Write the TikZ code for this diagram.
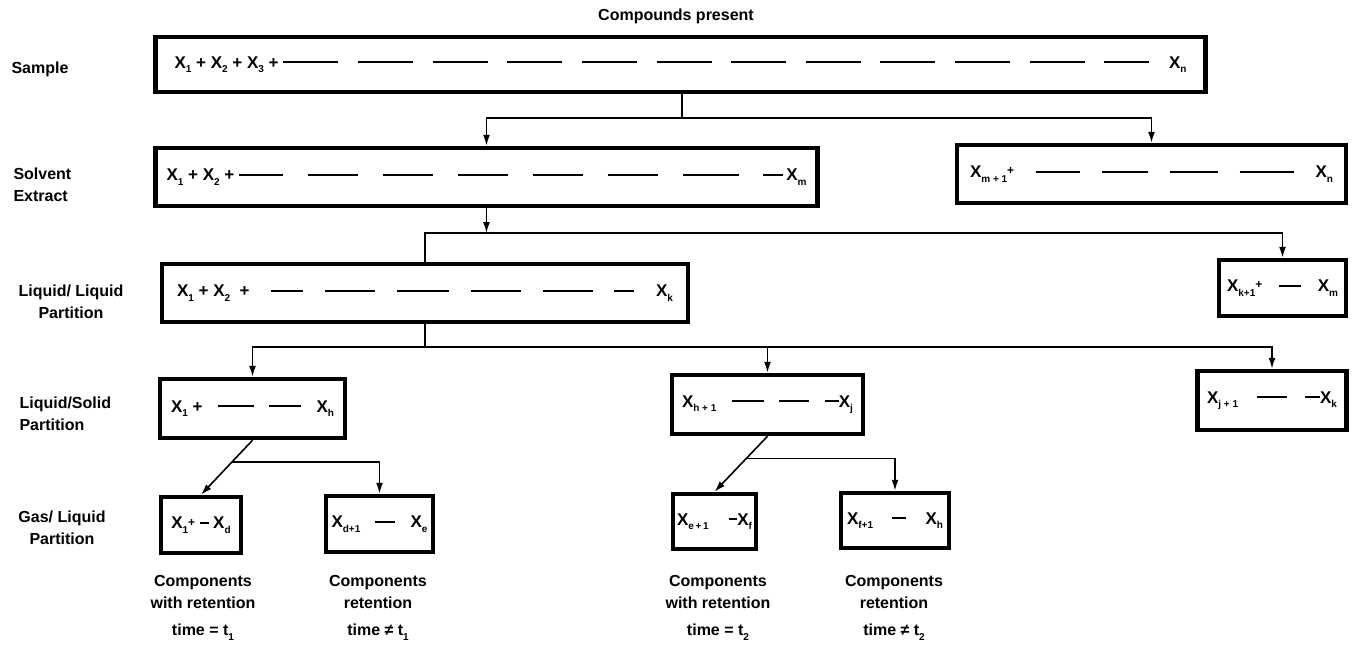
\documentclass[tikz,border=0pt]{standalone}
\usepackage{fontspec}
\setmainfont{Liberation Sans}
\usetikzlibrary{arrows.meta}
\usetikzlibrary{calc}

\newcommand{\lo}[1]{\raisebox{-4.5pt}{\fontsize{10}{10}\selectfont #1}}
\newcommand{\cx}[1]{X\lo{#1}}
\newcommand{\dsh}[1][55pt]{\rule[5pt]{#1}{2pt}}
\newcommand{\spread}[2]{\hbox to #1{#2}}

\begin{document}
\begin{tikzpicture}[x=1pt, y=-1pt, font=\fontsize{16}{22}\selectfont\bfseries,
    cbox/.style={draw, line width=4.5pt, inner sep=0pt, font=\fontsize{17}{20}\selectfont\bfseries},
    link/.style={line width=1.6pt},
    arr/.style={link, -{Latex[length=11pt,width=7pt]}}]
            \useasboundingbox (0,0) rectangle (1353,648);
            \node (title) at (676,16) {Compounds present};
            % stage labels
            \node [anchor=west] (lsample) at (8,69) {Sample};
            \node [anchor=west, align=left] (lsolvent) at (10,185) {Solvent\\Extract};
            \node [align=center] (lliquid) at (71,302) {Liquid/ Liquid\\Partition};
            \node [anchor=west, align=left] (lsolid) at (16,414) {Liquid/Solid\\Partition};
            \node [align=center] (lgas) at (62,528) {Gas/ Liquid\\Partition};
            % boxes
            \node [cbox, minimum width=1050pt, minimum height=55pt] (sample) at (680.5,64.5)
                {\spread{1012pt}{\cx{1} + \cx{2} + \cx{3} +\ \dsh\hfill\dsh\hfill\dsh\hfill\dsh\hfill\dsh\hfill\dsh\hfill\dsh\hfill\dsh\hfill\dsh\hfill\dsh\hfill\dsh\hfill\dsh[45pt]\hfill\cx{n}}};
            \node [cbox, minimum width=662pt, minimum height=58pt] (solvent) at (486.5,177)
                {\spread{640pt}{\cx{1} + \cx{2} +\ \dsh[44pt]\hfill\dsh[50pt]\hfill\dsh[50pt]\hfill\dsh[50pt]\hfill\dsh[50pt]\hfill\dsh[50pt]\hfill\dsh[56pt]\hfill\dsh[20pt]\,\cx{m}}};
            \node [cbox, minimum width=389pt, minimum height=58pt] (solvrest) at (1151.5,174)
                {\spread{363pt}{\cx{m + 1}\raisebox{3pt}{\fontsize{12}{12}\selectfont +}\hfill\dsh[44pt]\hfill\dsh[46pt]\hfill\dsh[48pt]\hfill\dsh[54pt]\hfill\cx{n}}};
            \node [cbox, minimum width=526pt, minimum height=58pt] (ll) at (425,293)
                {\spread{496pt}{\cx{1} + \cx{2}\ \ +\hfill\dsh[32pt]\hfill\dsh[50pt]\hfill\dsh[52pt]\hfill\dsh[50pt]\hfill\dsh[50pt]\hfill\dsh[20pt]\hfill\cx{k}}};
            \node [cbox, minimum width=127pt, minimum height=56pt] (llrest) at (1282.5,288)
                {\spread{111pt}{\cx{k+1}\raisebox{3pt}{\fontsize{12}{12}\selectfont +}\hfill\dsh[22pt]\hfill\cx{m}}};
            \node [cbox, minimum width=185pt, minimum height=59pt] (ls) at (252.5,408.5)
                {\spread{163pt}{\cx{1} +\hfill\dsh[36pt]\hfill\dsh[32pt]\hfill\cx{h}}};
            \node [cbox, minimum width=191pt, minimum height=59pt] (lsmid) at (767.5,404.5)
                {\spread{171pt}{\cx{h + 1}\hfill\dsh[32pt]\hfill\dsh[30pt]\hfill\dsh[14pt]\cx{j}}};
            \node [cbox, minimum width=149pt, minimum height=59pt] (lsrest) at (1272,400.5)
                {\spread{130pt}{\cx{j + 1}\hfill\dsh[30pt]\hfill\dsh[15pt]\cx{k}}};
            \node [cbox, minimum width=80pt, minimum height=56pt] (gl1) at (201,525)
                {\cx{1}\raisebox{2pt}{\fontsize{12}{12}\selectfont +}\hspace{5pt}\dsh[9pt]\hspace{4pt}\cx{d}};
            \node [cbox, minimum width=107pt, minimum height=56pt] (gl2) at (379.5,524)
                {\spread{96pt}{\cx{d+1}\hfill\dsh[20pt]\hfill\cx{e}}};
            \node [cbox, minimum width=83pt, minimum height=55pt] (gl3) at (714.5,521.5)
                {\spread{75pt}{\cx{e\,+\,1}\hfill\dsh[8pt]\cx{f}}};
            \node [cbox, minimum width=108pt, minimum height=55pt] (gl4) at (895,520.5)
                {\spread{96pt}{\cx{f+1}\hfill\dsh[14pt]\hfill\cx{h}}};
            % retention notes
            \node [anchor=north, align=center] (note1) at (203,572) {Components\\with retention\\[5pt]time = t\lo{1}};
            \node [anchor=north, align=center] (note2) at (378,572) {Components\\retention\\[5pt]time ≠ t\lo{1}};
            \node [anchor=north, align=center] (note3) at (718,572) {Components\\with retention\\[5pt]time = t\lo{2}};
            \node [anchor=north, align=center] (note4) at (894,572) {Components\\retention\\[5pt]time ≠ t\lo{2}};
            % connectors
            \coordinate (j1) at (682,118);
            \draw [link] (sample.south -| j1) -- (j1);
            \draw [arr] (j1) -| (solvent.north);
            \draw [arr] (j1) -| (solvrest.north);
            \coordinate (j2) at (486.5,233);
            \draw [arr] (solvent.south) -- (j2);
            \draw [link] (j2) -| (ll.north);
            \draw [arr] (j2) -| (llrest.north);
            \coordinate (j3) at (425,347);
            \draw [link] (ll.south) -- (j3);
            \draw [arr] (j3) -| (ls.north);
            \draw [arr] (j3) -| (lsmid.north);
            \draw [arr] (j3) -| (lsrest.north);
            \draw [arr] (ls.south) -- (gl1.north);
            \coordinate (b1) at ($(ls.south)!0.4!(gl1.north)$);
            \draw [arr] (b1) -| (gl2.north);
            \draw [arr] (lsmid.south) -- (gl3.north);
            \coordinate (b2) at ($(lsmid.south)!0.4!(gl3.north)$);
            \draw [arr] (b2) -| (gl4.north);
        \end{tikzpicture}
\end{document}
